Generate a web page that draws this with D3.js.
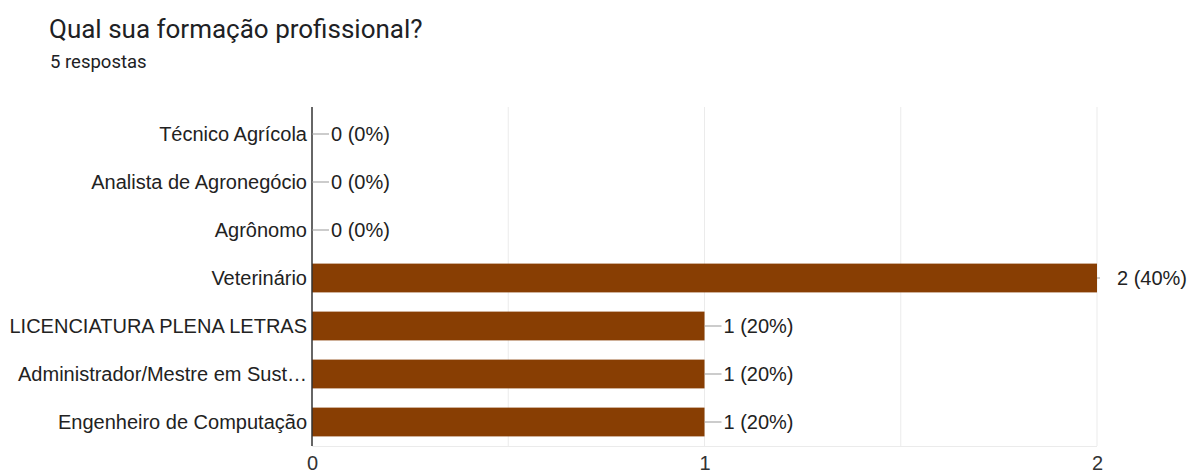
<!DOCTYPE html>
<html>
<head>
<meta charset="utf-8">
<script src="https://cdn.jsdelivr.net/npm/d3@7"></script>
<style>
  body { margin: 0; background: #fff; font-family: "Liberation Sans", Arial, sans-serif; }
</style>
</head>
<body>
<div id="viz"></div>
<script>
// data
var categories = ["Técnico Agrícola", "Analista de Agronegócio", "Agrônomo", "Veterinário",
                  "LICENCIATURA PLENA LETRAS", "Administrador/Mestre em Sust…", "Engenheiro de Computação"];
var values = [0, 0, 0, 2, 1, 1, 1];
var percents = ["0%", "0%", "0%", "40%", "20%", "20%", "20%"];
var xTicks = [0, 1, 2];

var width = 1189, height = 475;
var margin = {top: 110, left: 312, right: 92, bottom: 29};
var labelFont = "20px";

var svg = d3.select("#viz").append("svg")
  .attr("width", width)
  .attr("height", height);

// title
svg.append("text")
  .attr("x", 49).attr("y", 38)
  .text("Qual sua formação profissional?")
  .style("font-family", "Roboto, Arial, sans-serif")
  .style("font-size", "26px").style("fill", "#202124");

svg.append("text")
  .attr("x", 50).attr("y", 68)
  .text("5 respostas")
  .style("font-family", "Roboto, Arial, sans-serif")
  .style("font-size", "18.5px").style("fill", "#202124");

var xScale = d3.scaleLinear()
  .domain([0, 2])
  .range([margin.left, width - margin.right]);

var yScale = d3.scaleBand()
  .domain(categories)
  .range([margin.top, height - margin.bottom])
  .paddingInner(0.4).paddingOuter(0.2);

// grid lines (half steps)
var gridVals = [0.5, 1, 1.5, 2];
svg.append("g")
  .selectAll("line")
  .data(gridVals)
  .enter()
  .append("line")
    .attr("x1", d => xScale(d)).attr("x2", d => xScale(d))
    .attr("y1", margin.top - 3).attr("y2", height - margin.bottom)
    .attr("stroke", "#ebebeb").attr("stroke-width", 1);

// bottom border
svg.append("line")
  .attr("x1", margin.left).attr("x2", xScale(2))
  .attr("y1", height - margin.bottom + 0.5).attr("y2", height - margin.bottom + 0.5)
  .attr("stroke", "#ebebeb");

// bars
svg.append("g")
  .selectAll("rect")
  .data(categories)
  .enter()
  .append("rect")
    .attr("x", xScale(0))
    .attr("y", d => yScale(d))
    .attr("width", (d, i) => xScale(values[i]) - xScale(0))
    .attr("height", yScale.bandwidth())
    .attr("fill", "#883e03");

// axis
var x_axis = d3.axisBottom(xScale)
  .tickValues(xTicks)
  .tickSize(0)
  .tickPadding(10)
  .tickFormat(d3.format("d"));

var gx = svg.append("g")
  .attr("transform", "translate(0," + (height - margin.bottom) + ")")
  .call(x_axis);
gx.select(".domain").remove();
gx.selectAll("text").style("font-size", labelFont).style("fill", "#333")
  .style("font-family", "'Liberation Sans', Arial, sans-serif");

// category labels
svg.append("g")
  .selectAll("text")
  .data(categories)
  .enter()
  .append("text")
    .attr("x", margin.left - 5)
    .attr("y", d => yScale(d) + yScale.bandwidth() / 2)
    .attr("dy", "0.36em")
    .attr("text-anchor", "end")
    .text(d => d)
    .style("font-size", labelFont).style("fill", "#222");

// vertical baseline
svg.append("line")
  .attr("x1", margin.left).attr("x2", margin.left)
  .attr("y1", margin.top - 3).attr("y2", height - margin.bottom)
  .attr("stroke", "#333").attr("stroke-width", 1.5);

// value labels with leader lines
var lab = svg.append("g")
  .selectAll("g")
  .data(categories)
  .enter()
  .append("g")
  .attr("transform", (d, i) => "translate(" + xScale(values[i]) + "," + (yScale(d) + yScale.bandwidth() / 2) + ")");

lab.append("line")
  .attr("x1", 0).attr("x2", (d, i) => values[i] == 2 ? 3 : 17)
  .attr("y1", 0).attr("y2", 0)
  .attr("stroke", "#999");

lab.append("text")
  .attr("x", (d, i) => values[i] == 2 ? 20 : 19)
  .attr("dy", "0.36em")
  .text((d, i) => values[i] + " (" + percents[i] + ")")
  .style("font-size", labelFont).style("fill", "#222");
</script>
</body>
</html>
